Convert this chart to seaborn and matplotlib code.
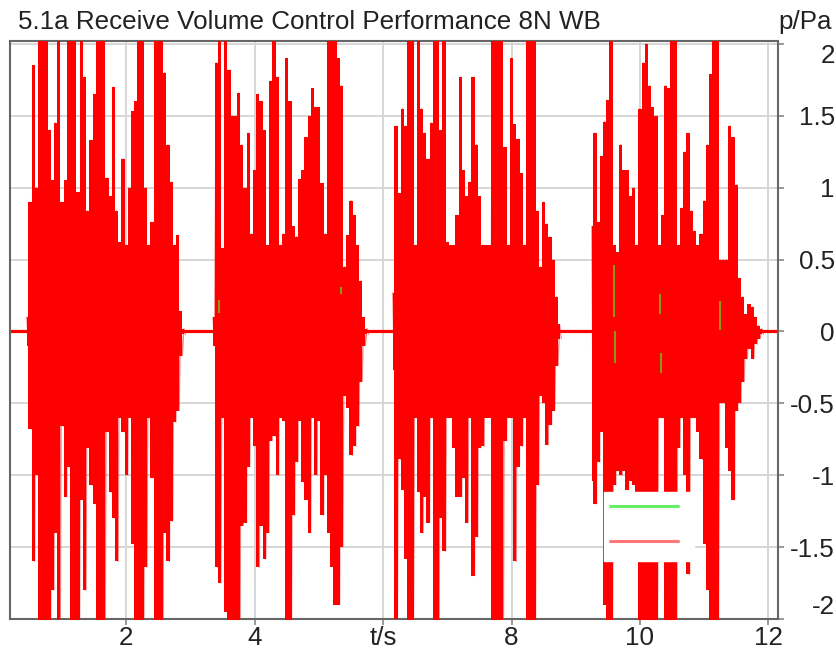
import numpy as np
import matplotlib.pyplot as plt
from matplotlib.lines import Line2D
import seaborn as sns

title = "5.1a Receive Volume Control Performance 8N WB"

# envelope of the recorded signal, one value every 0.05 s inside each burst
step = 0.05
seg_start = [0.45, 3.35, 6.15, 9.25]

seg1_upper = [0.10, 0.90, 1.85, 1.00, 2.10, 2.10, 2.10, 1.40, 1.05, 1.45,
              2.10, 0.90, 1.05, 2.10, 2.10, 2.10, 0.97, 2.10, 1.77, 0.84,
              1.33, 1.65, 2.10, 2.10, 2.10, 1.07, 0.94, 1.70, 0.84, 0.62,
              1.20, 0.60, 1.00, 1.53, 1.60, 2.10, 2.10, 1.00, 0.60, 0.76,
              2.10, 2.10, 2.10, 1.80, 1.30, 1.04, 0.60, 0.67, 0.14, 0.02]
seg1_lower = [-0.10, -0.68, -1.60, -1.00, -2.10, -2.10, -2.10, -2.10, -1.80, -1.40,
              -2.10, -0.66, -1.15, -0.94, -2.10, -2.10, -2.10, -1.17, -1.80, -0.81,
              -1.07, -1.20, -2.10, -2.10, -2.10, -0.70, -1.12, -1.30, -1.60, -0.60,
              -0.70, -1.00, -0.60, -1.48, -2.10, -2.10, -2.10, -1.64, -0.60, -1.02,
              -2.10, -2.10, -2.10, -1.40, -1.60, -1.32, -0.63, -0.55, -0.17, -0.02]

seg2_upper = [0.10, 1.87, 2.10, 0.58, 2.10, 1.82, 1.50, 1.50, 1.66, 1.30,
              1.00, 1.38, 0.68, 1.12, 1.65, 1.60, 1.40, 0.60, 1.74, 2.10,
              1.77, 0.60, 0.68, 1.90, 1.60, 0.73, 0.66, 1.06, 1.12, 1.35,
              1.50, 1.69, 1.56, 1.56, 1.03, 0.68, 2.10, 2.10, 2.10, 1.90,
              1.71, 0.45, 0.67, 0.91, 0.81, 0.60, 0.35, 0.10, 0.02]
seg2_lower = [-0.10, -1.64, -1.75, -0.60, -1.95, -2.10, -2.10, -2.10, -2.10, -1.35,
              -1.33, -0.94, -0.60, -0.80, -1.64, -1.35, -1.58, -1.40, -0.76, -0.73,
              -1.00, -0.60, -0.62, -2.10, -2.10, -1.28, -0.91, -0.62, -1.05, -1.17,
              -1.40, -0.60, -1.00, -0.62, -1.28, -1.00, -1.40, -1.64, -1.90, -1.90,
              -1.50, -0.45, -0.53, -0.86, -0.80, -0.66, -0.35, -0.10, -0.02]

seg3_upper = [0.27, 1.43, 0.96, 1.55, 1.43, 2.10, 2.10, 0.60, 2.10, 1.55,
              1.38, 1.20, 1.45, 2.10, 2.10, 1.40, 2.10, 0.62, 0.60, 0.60,
              0.81, 1.77, 1.12, 0.94, 1.04, 1.77, 1.30, 0.94, 0.60, 0.60,
              0.60, 2.10, 2.10, 2.10, 2.10, 1.28, 0.60, 1.90, 1.44, 1.34,
              1.10, 0.60, 2.10, 2.10, 2.10, 0.84, 0.45, 0.90, 0.75, 0.66,
              0.50, 0.24, 0.05]
seg3_lower = [-0.27, -2.00, -0.89, -1.10, -1.58, -2.10, -2.10, -0.60, -1.12, -1.40,
              -1.15, -1.33, -0.60, -2.10, -2.10, -1.30, -1.53, -0.60, -0.60, -0.81,
              -1.15, -1.15, -1.02, -1.33, -0.60, -1.70, -1.43, -0.81, -0.80, -0.60,
              -0.60, -2.10, -2.10, -2.10, -2.10, -0.76, -0.60, -0.60, -1.60, -0.94,
              -0.80, -0.60, -2.10, -2.10, -2.10, -1.07, -0.45, -0.50, -0.79, -0.65,
              -0.55, -0.24, -0.05]

seg4_upper = [0.73, 1.38, 0.76, 1.22, 1.46, 1.61, 2.10, 0.60, 0.55, 1.30,
              1.12, 1.12, 0.94, 1.00, 0.60, 1.55, 1.87, 2.00, 1.71, 1.56,
              1.50, 0.60, 0.81, 1.71, 1.69, 2.10, 2.10, 0.60, 0.86, 1.25,
              1.38, 0.84, 0.70, 0.60, 0.68, 0.91, 1.30, 1.79, 2.10, 2.10,
              0.50, 0.50, 0.50, 1.43, 1.35, 1.02, 0.37, 0.24, 0.12, 0.19,
              0.17, 0.10, 0.04, 0.02]
seg4_lower = [-1.04, -1.20, -0.91, -0.70, -1.90, -2.10, -2.10, -1.07, -0.97, -1.00,
              -0.97, -1.10, -1.04, -1.07, -1.20, -2.10, -2.10, -2.10, -2.10, -2.10,
              -2.10, -0.60, -0.60, -2.10, -2.10, -2.10, -2.10, -0.81, -0.60, -1.00,
              -1.69, -0.60, -0.60, -0.70, -0.89, -1.48, -1.80, -2.10, -2.10, -2.10,
              -0.50, -0.50, -0.81, -0.97, -1.17, -0.55, -0.50, -0.35, -0.19, -0.12,
              -0.19, -0.09, -0.05, -0.02]

# bits of the green (reference) trace that show through the red one
green_t = [3.44, 5.35, 9.60, 9.61, 10.32, 10.33, 11.24]
green_hi = [0.22, 0.31, 0.46, 0.00, 0.26, -0.15, 0.21]
green_lo = [0.13, 0.26, 0.10, -0.22, 0.12, -0.29, 0.01]

x_ticks = [2, 4, 6, 8, 10, 12]
x_labels = ["2", "4", "t/s", "8", "10", "12"]
y_ticks = [-2, -1.5, -1, -0.5, 0, 0.5, 1, 1.5, 2]
y_labels = ["-2", "-1.5", "-1", "-0.5", "0", "0.5", "1", "1.5", "2"]

sns.set_theme(style="white")
plt.rcParams["font.family"] = ["Liberation Sans", "DejaVu Sans"]
fs = 18.7

W, H = 837, 648
fig = plt.figure(figsize=(W / 100, H / 100), dpi=100)
ax = fig.add_axes([10 / W, 29 / H, 768 / W, 578 / H])

ax.axhline(0, color="red", lw=2.3, zorder=2)

uppers = [seg1_upper, seg2_upper, seg3_upper, seg4_upper]
lowers = [seg1_lower, seg2_lower, seg3_lower, seg4_lower]
for start, up, lo in zip(seg_start, uppers, lowers):
    up = np.array(up)
    lo = np.array(lo)
    t = start + step * np.arange(len(up))
    ax.fill_between(t, lo, up, step="mid", color="red", lw=0, zorder=3)
    zx = np.column_stack([t, t + step / 2]).ravel()
    zy = np.column_stack([up, lo]).ravel()
    sns.lineplot(x=zx, y=zy, sort=False, estimator=None, color="red",
                 alpha=0.5, lw=0.8, ax=ax, zorder=4)

ax.vlines(green_t, green_lo, green_hi, color="#78b814", lw=1.2, zorder=5)

ax.set_xlim(0.19, 12.15)
ax.set_ylim(-2.0, 2.02)
ax.set_xticks(x_ticks, x_labels)
ax.set_yticks(y_ticks, y_labels)
ax.set_axisbelow(True)
ax.grid(True, color="#d6d6d6", lw=1.4)

ax.tick_params(axis="y", left=False, right=True, labelleft=False, labelright=True,
               length=4, width=1.2, color="#888888", pad=37, labelsize=fs,
               labelcolor="#222222")
ax.tick_params(axis="x", bottom=True, length=4, width=1.2, color="#888888",
               pad=1, labelsize=fs, labelcolor="#222222")
ylabs = ax.get_yticklabels()
for lab in ylabs:
    lab.set_ha("right")
ylabs[0].set_va("bottom")
ylabs[-1].set_va("top")

for sp in ax.spines.values():
    sp.set_visible(True)
    sp.set_color("#666666")
    sp.set_linewidth(1.5)

fig.text(18 / W, 1 - 22 / H, title, ha="left", va="center", fontsize=fs, color="#222222")
fig.text(832 / W, 1 - 22 / H, "p/Pa", ha="right", va="center", fontsize=fs, color="#222222")

handles = [Line2D([0], [0], color="#66ee66", lw=2.2),
           Line2D([0], [0], color="#ff7777", lw=2.2)]
leg = ax.legend(handles, ["", ""], loc="upper left", bbox_to_anchor=(0.7734, 0.2197),
                borderaxespad=0, fontsize=12, handlelength=4.07, handleheight=1.7,
                handletextpad=0.66, labelspacing=0.75, borderpad=0.35,
                frameon=True, fancybox=False, framealpha=1)
leg.get_frame().set_facecolor("white")
leg.get_frame().set_edgecolor("white")
leg.set_zorder(10)

fig.savefig("out.png", dpi=100)
